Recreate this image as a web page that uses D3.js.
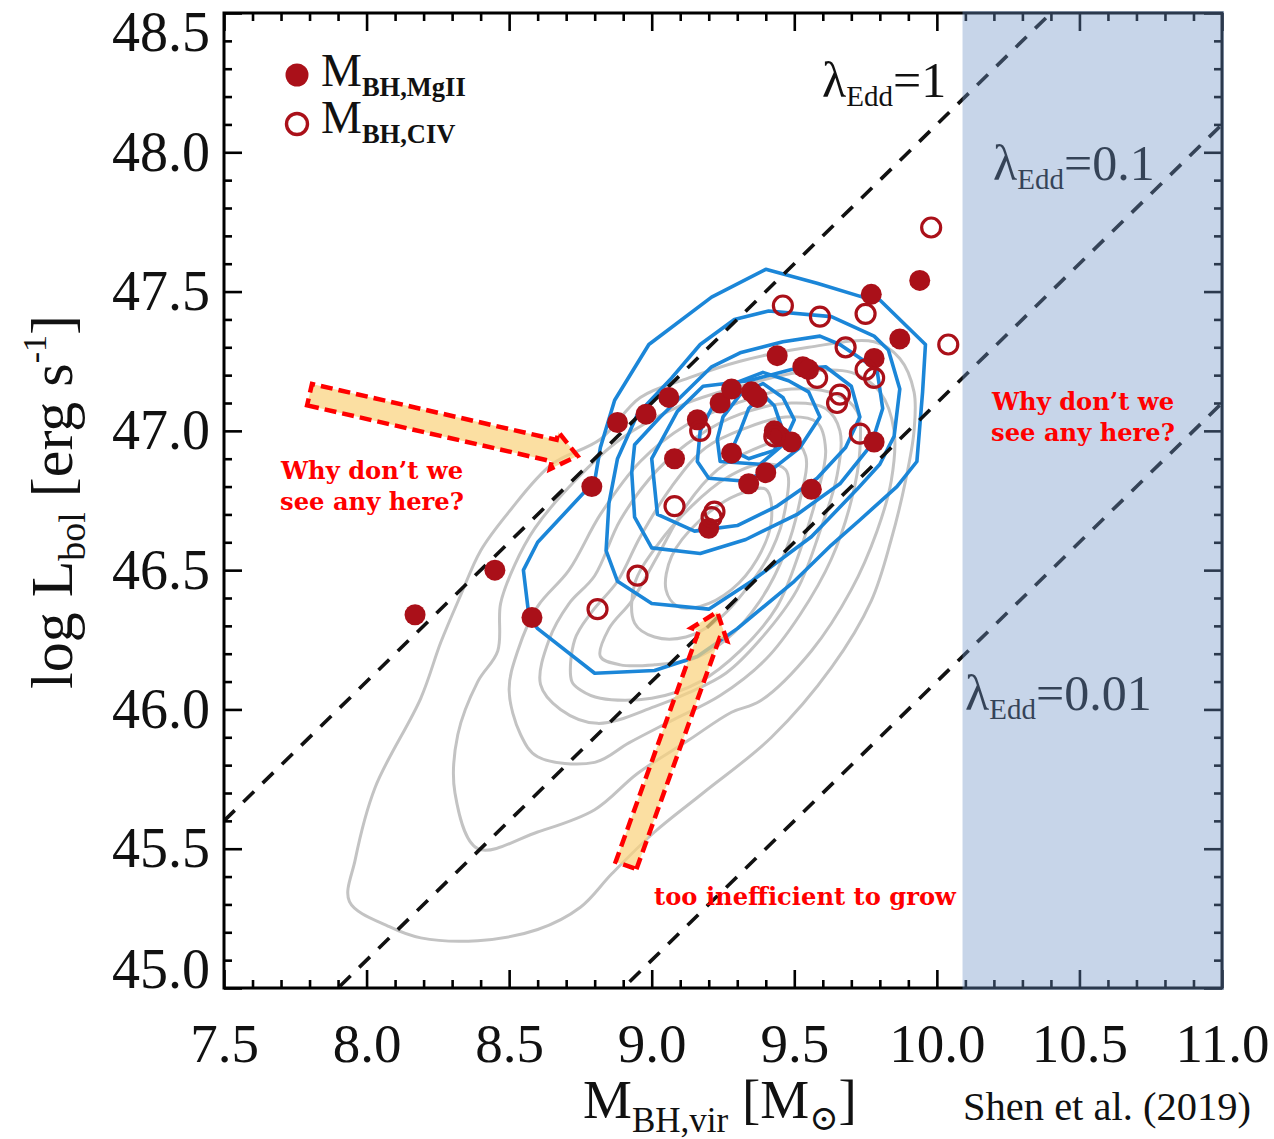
<!DOCTYPE html>
<html>
<head>
<meta charset="utf-8">
<script src="https://cdn.jsdelivr.net/npm/d3@7"></script>
<style>
  html, body { margin: 0; padding: 0; background: #fff; }
  svg { display: block; }
</style>
</head>
<body>
<svg id="chart" width="1274" height="1139"></svg>
<script>
// ---- Quasars with MgII-based virial masses: log M_BH and log L_bol ----
const mgiiMass = [8.17, 8.45, 8.58, 8.79, 8.88, 8.98, 9.06, 9.08, 9.16, 9.24, 9.28, 9.35, 9.37, 9.28, 9.40,
                  9.34, 9.20, 9.44, 9.53, 9.55, 9.43, 9.45, 9.49, 9.56, 9.77, 9.94, 9.87, 9.78, 9.78];
const mgiiLbol = [46.34, 46.50, 46.33, 46.80, 47.03, 47.06, 47.12, 46.90, 47.04, 47.10, 47.15, 47.14, 47.12, 46.92, 46.85,
                  46.81, 46.65, 47.27, 47.23, 47.22, 47.00, 46.98, 46.96, 46.79, 47.49, 47.54, 47.33, 47.26, 46.96];

// ---- Quasars with CIV-based virial masses ----
const civMass = [9.98, 9.46, 9.59, 9.75, 9.68, 9.58, 9.75, 9.78, 9.66, 9.65, 9.17, 9.73, 9.43, 9.08, 9.22, 9.21, 10.04, 8.95, 8.81];
const civLbol = [47.73, 47.45, 47.41, 47.42, 47.30, 47.19, 47.22, 47.19, 47.13, 47.10, 47.00, 46.99, 46.98, 46.73, 46.71, 46.69, 47.31, 46.48, 46.36];

// ---- Density contours of the comparison sample (grey), outer to inner ----
const grayContours = [
  [[7.94,45.31],[7.96,45.46],[8.03,45.72],[8.19,46.04],[8.26,46.24],[8.33,46.41],[8.40,46.57],[8.50,46.71],[8.65,46.88],
   [8.82,46.97],[8.96,47.12],[9.13,47.19],[9.31,47.25],[9.55,47.30],[9.78,47.32],[9.87,47.26],[9.92,47.14],[9.92,47.00],
   [9.89,46.82],[9.84,46.61],[9.77,46.39],[9.63,46.15],[9.42,45.90],[9.18,45.70],[9.01,45.56],[8.86,45.41],[8.75,45.29],
   [8.60,45.21],[8.39,45.17],[8.19,45.18],[8.08,45.22]],
  [[8.39,45.50],[8.31,45.70],[8.32,45.91],[8.39,46.10],[8.46,46.21],[8.47,46.38],[8.52,46.52],[8.59,46.65],[8.73,46.82],
   [8.89,46.97],[9.10,47.09],[9.31,47.16],[9.52,47.21],[9.70,47.21],[9.80,47.14],[9.85,47.00],[9.84,46.82],[9.79,46.64],
   [9.70,46.43],[9.56,46.21],[9.38,46.03],[9.28,45.99],[9.13,45.89],[8.95,45.77],[8.80,45.64],[8.60,45.56]],
  [[8.54,45.91],[8.60,45.83],[8.80,45.81],[8.92,45.88],[9.07,45.96],[9.24,46.05],[9.40,46.18],[9.52,46.34],[9.63,46.54],
   [9.70,46.75],[9.73,46.93],[9.72,47.07],[9.65,47.13],[9.49,47.15],[9.30,47.10],[9.12,47.02],[8.96,46.89],[8.82,46.70],
   [8.71,46.50],[8.60,46.37],[8.53,46.21],[8.50,46.07]],
  [[8.61,46.09],[8.68,46.00],[8.81,45.95],[9.01,46.01],[9.13,46.06],[9.26,46.13],[9.38,46.25],[9.51,46.43],[9.59,46.64],
   [9.65,46.84],[9.66,47.00],[9.61,47.08],[9.49,47.10],[9.31,47.06],[9.16,46.98],[9.02,46.86],[8.89,46.68],[8.80,46.48],
   [8.71,46.38],[8.64,46.25]],
  [[8.72,46.10],[8.73,46.25],[8.79,46.35],[8.88,46.46],[8.96,46.62],[9.07,46.80],[9.19,46.94],[9.33,47.01],[9.47,47.05],
   [9.58,47.03],[9.61,46.93],[9.58,46.77],[9.52,46.57],[9.44,46.37],[9.31,46.21],[9.17,46.10],[9.00,46.04],[8.82,46.04],
   [8.75,46.07]],
  [[8.82,46.19],[8.85,46.29],[8.93,46.39],[9.02,46.55],[9.12,46.73],[9.23,46.86],[9.35,46.93],[9.49,46.97],[9.54,46.91],
   [9.52,46.75],[9.47,46.57],[9.38,46.39],[9.26,46.25],[9.14,46.18],[9.01,46.16],[8.89,46.16]],
  [[8.94,46.31],[8.94,46.45],[9.02,46.59],[9.14,46.73],[9.26,46.83],[9.38,46.88],[9.47,46.86],[9.47,46.73],[9.42,46.57],
   [9.33,46.43],[9.23,46.32],[9.12,46.26],[9.01,46.26]],
  [[9.05,46.43],[9.07,46.55],[9.17,46.68],[9.30,46.77],[9.40,46.79],[9.42,46.68],[9.37,46.54],[9.28,46.43],[9.17,46.37],
   [9.09,46.37]]
];

// ---- Density contours of the high-redshift sample (blue), outer to inner ----
const blueContours = [
  [[9.40,47.58],[9.58,47.53],[9.74,47.48],[9.80,47.47],[9.96,47.31],[9.95,47.14],[9.93,46.89],[9.86,46.80],[9.73,46.68],
   [9.63,46.59],[9.50,46.46],[9.30,46.29],[9.16,46.19],[9.01,46.14],[8.80,46.13],[8.60,46.29],[8.57,46.33],[8.55,46.50],
   [8.60,46.60],[8.80,46.82],[8.82,46.94],[8.87,47.11],[8.99,47.31],[9.21,47.48]],
  [[9.41,47.43],[9.63,47.41],[9.78,47.34],[9.83,47.29],[9.87,47.15],[9.85,46.98],[9.80,46.88],[9.72,46.79],[9.56,46.62],
   [9.35,46.46],[9.20,46.36],[9.00,46.38],[8.88,46.46],[8.84,46.57],[8.85,46.74],[8.88,46.90],[8.95,47.06],[9.07,47.19],
   [9.17,47.31],[9.29,47.40]],
  [[9.21,47.23],[9.31,47.28],[9.46,47.32],[9.59,47.34],[9.66,47.31],[9.79,47.22],[9.81,47.08],[9.77,46.95],[9.66,46.81],
   [9.51,46.70],[9.33,46.61],[9.17,46.56],[9.00,46.58],[8.94,46.69],[8.93,46.85],[8.94,46.95],[9.03,47.05]],
  [[9.09,47.07],[9.18,47.16],[9.34,47.18],[9.49,47.22],[9.61,47.23],[9.70,47.16],[9.73,47.05],[9.68,46.94],[9.58,46.83],
   [9.44,46.73],[9.30,46.66],[9.15,46.64],[9.02,46.70],[9.00,46.90]],
  [[9.29,47.17],[9.39,47.21],[9.48,47.18],[9.55,47.14],[9.59,47.05],[9.52,46.94],[9.42,46.86],[9.32,46.82],[9.20,46.83],
   [9.16,46.89],[9.17,47.00],[9.22,47.10]],
  [[9.31,47.13],[9.39,47.17],[9.46,47.12],[9.50,47.04],[9.46,46.95],[9.38,46.88],[9.24,46.89],[9.23,46.97],[9.25,47.05]],
  [[9.34,47.08],[9.39,47.13],[9.43,47.09],[9.46,47.00],[9.43,46.93],[9.34,46.90],[9.28,46.93],[9.31,47.00]]
];

// ---- Eddington ratio reference lines: log L = log M + eddConst + log(lambda) ----
const eddRatios = [1, 0.1, 0.01];
const eddLabels = ["1", "0.1", "0.01"];
const eddConst = 38.1;

// ---- Mass range where no objects are found ----
const emptyMassFrom = 10.09;

// ---- Axes ----
const xMajor = [7.5, 8.0, 8.5, 9.0, 9.5, 10.0, 10.5, 11.0];
const yMajor = [45.0, 45.5, 46.0, 46.5, 47.0, 47.5, 48.0, 48.5];
const xMinor = d3.range(75, 111).filter(v => v % 5 !== 0).map(v => v / 10);
const yMinor = d3.range(450, 486).filter(v => v % 5 !== 0).map(v => v / 10);

// ---- Annotation arrows in data units: [tail, tip] ----
const arrowAbove = [[7.80, 47.13], [8.74, 46.91]];
const arrowBelow = [[8.91, 45.44], [9.23, 46.35]];

const plotL = 224, plotR = 1222, plotT = 13, plotB = 988;
const serif = "'Liberation Serif', 'Times New Roman', serif";
const red = "#aa1019";

const svg = d3.select("#chart");
const x = d3.scaleLinear().domain([7.5, 11.0]).range([plotL, plotR]);
const y = d3.scaleLinear().domain([45.0, 48.5]).range([plotB, plotT]);

svg.append("defs").append("clipPath").attr("id", "plotClip")
  .append("rect").attr("x", plotL).attr("y", plotT).attr("width", plotR - plotL).attr("height", plotB - plotT);

const plot = svg.append("g").attr("clip-path", "url(#plotClip)");
const grayLine = d3.line().x(d => x(d[0])).y(d => y(d[1])).curve(d3.curveCatmullRomClosed.alpha(0.5));
const blueLine = d3.line().x(d => x(d[0])).y(d => y(d[1])).curve(d3.curveLinearClosed);

plot.append("g").selectAll("path").data(grayContours).join("path")
  .attr("d", grayLine).attr("fill", "none").attr("stroke", "#c3c3c3")
  .attr("stroke-width", 3).attr("stroke-linejoin", "round");

plot.append("g").selectAll("path").data(blueContours).join("path")
  .attr("d", blueLine).attr("fill", "none").attr("stroke", "#1b86d8")
  .attr("stroke-width", 3.6).attr("stroke-linejoin", "round");

// Eddington lines
plot.append("g").selectAll("line").data(eddRatios).join("line")
  .attr("x1", x(7.5)).attr("y1", d => y(7.5 + eddConst + Math.log10(d)))
  .attr("x2", x(11.0)).attr("y2", d => y(11.0 + eddConst + Math.log10(d)))
  .attr("stroke", "#111").attr("stroke-width", 3.6).attr("stroke-dasharray", "15,12");

// Data points
const mgii = mgiiMass.map((m, i) => [m, mgiiLbol[i]]);
const civ = civMass.map((m, i) => [m, civLbol[i]]);
plot.append("g").selectAll("circle").data(mgii).join("circle")
  .attr("cx", d => x(d[0])).attr("cy", d => y(d[1])).attr("r", 10.5).attr("fill", red);
plot.append("g").selectAll("circle").data(civ).join("circle")
  .attr("cx", d => x(d[0])).attr("cy", d => y(d[1])).attr("r", 9.5)
  .attr("fill", "none").attr("stroke", red).attr("stroke-width", 3.2);

// Eddington labels
const eddPos = [[822, 97], [993, 180], [965, 710]];
eddLabels.forEach((lab, i) => {
  const t = svg.append("text").attr("x", eddPos[i][0]).attr("y", eddPos[i][1])
    .attr("font-family", serif).attr("font-size", 50).attr("fill", "#111");
  t.append("tspan").text("λ");
  t.append("tspan").attr("font-size", 29).attr("dy", 9).text("Edd");
  t.append("tspan").attr("dy", -9).text("=" + lab);
});

// Legend
const legend = svg.append("g");
legend.append("circle").attr("cx", 297).attr("cy", 75).attr("r", 11.5).attr("fill", red);
legend.append("circle").attr("cx", 297).attr("cy", 124).attr("r", 10.5).attr("fill", "none")
  .attr("stroke", red).attr("stroke-width", 3.4);
[["BH,MgII", 86], ["BH,CIV", 133]].forEach(([sub, by]) => {
  const t = legend.append("text").attr("x", 321).attr("y", by)
    .attr("font-family", serif).attr("font-size", 46).attr("fill", "#111");
  t.append("tspan").text("M");
  t.append("tspan").attr("font-size", 26.5).attr("font-weight", "bold").attr("dy", 10).text(sub);
});

// Axes: inward ticks on all four sides
function styleAxis(g) {
  g.select(".domain").remove();
  g.selectAll(".tick line").attr("stroke", "#000").attr("stroke-width", 2.6);
  g.selectAll("text").attr("font-family", serif).attr("fill", "#111");
}
const fmt = d3.format(".1f");
svg.append("g").attr("transform", `translate(0,${plotB})`)
  .call(d3.axisBottom(x).tickValues(xMajor).tickSize(-18).tickPadding(35).tickFormat(fmt))
  .call(styleAxis).call(g => g.selectAll("text").attr("font-size", 55));
svg.append("g").attr("transform", `translate(0,${plotB})`)
  .call(d3.axisBottom(x).tickValues(xMinor).tickSize(-8).tickFormat("")).call(styleAxis);
svg.append("g").attr("transform", `translate(0,${plotT})`)
  .call(d3.axisTop(x).tickValues(xMajor).tickSize(-18).tickFormat("")).call(styleAxis);
svg.append("g").attr("transform", `translate(0,${plotT})`)
  .call(d3.axisTop(x).tickValues(xMinor).tickSize(-8).tickFormat("")).call(styleAxis);
svg.append("g").attr("transform", `translate(${plotL},0)`)
  .call(d3.axisLeft(y).tickValues(yMajor).tickSize(-18).tickPadding(14).tickFormat(fmt))
  .call(styleAxis)
  .call(g => g.selectAll("text").attr("font-size", 56)
    // keep the end labels inside the frame height
    .attr("y", d => d === 48.5 ? 20 : d === 45.0 ? -18 : 0));
svg.append("g").attr("transform", `translate(${plotL},0)`)
  .call(d3.axisLeft(y).tickValues(yMinor).tickSize(-8).tickFormat("")).call(styleAxis);
svg.append("g").attr("transform", `translate(${plotR},0)`)
  .call(d3.axisRight(y).tickValues(yMajor).tickSize(-18).tickFormat("")).call(styleAxis);
svg.append("g").attr("transform", `translate(${plotR},0)`)
  .call(d3.axisRight(y).tickValues(yMinor).tickSize(-8).tickFormat("")).call(styleAxis);

svg.append("rect").attr("x", plotL).attr("y", plotT).attr("width", plotR - plotL).attr("height", plotB - plotT)
  .attr("fill", "none").attr("stroke", "#000").attr("stroke-width", 3);

// Shaded empty region (drawn over the frame so it tints it)
svg.append("rect").attr("x", x(emptyMassFrom)).attr("y", plotT - 2)
  .attr("width", plotR + 2 - x(emptyMassFrom)).attr("height", plotB - plotT + 4)
  .attr("fill", "rgb(110,148,199)").attr("fill-opacity", 0.39);

// Axis titles
const xt = svg.append("text").attr("x", 583).attr("y", 1118)
  .attr("font-family", serif).attr("font-size", 55).attr("fill", "#111");
xt.append("tspan").text("M");
xt.append("tspan").attr("font-size", 35).attr("dy", 14).text("BH,vir");
xt.append("tspan").attr("dy", -14).text(" [M");
xt.append("tspan").attr("font-size", 35).attr("dy", 12).attr("font-family", "'DejaVu Serif', serif").text("⊙");
xt.append("tspan").attr("dy", -12).text("]");

const yt = svg.append("text").attr("transform", "translate(72,502) rotate(-90)")
  .attr("text-anchor", "middle").attr("font-family", serif).attr("font-size", 60).attr("fill", "#111");
yt.append("tspan").text("log L");
yt.append("tspan").attr("font-size", 38).attr("dy", 13).text("bol");
yt.append("tspan").attr("dy", -13).text(" [erg s");
yt.append("tspan").attr("font-size", 34).attr("dy", -26).text("-1");
yt.append("tspan").attr("dy", 26).text("]");

svg.append("text").attr("x", 963).attr("y", 1120).attr("font-family", serif)
  .attr("font-size", 40.5).attr("fill", "#111").text("Shen et al. (2019)");

// Annotation arrows
function arrowPoints([p0, p1], hw, headHW, headLen) {
  const x0 = x(p0[0]), y0 = y(p0[1]), x1 = x(p1[0]), y1 = y(p1[1]);
  const len = Math.hypot(x1 - x0, y1 - y0), ux = (x1 - x0) / len, uy = (y1 - y0) / len;
  const nx = -uy, ny = ux, bx = x1 - ux * headLen, by = y1 - uy * headLen;
  return [[x0 + nx * hw, y0 + ny * hw], [bx + nx * hw, by + ny * hw], [bx + nx * headHW, by + ny * headHW],
          [x1, y1], [bx - nx * headHW, by - ny * headHW], [bx - nx * hw, by - ny * hw], [x0 - nx * hw, y0 - ny * hw]];
}
[arrowAbove, arrowBelow].forEach(a => {
  svg.append("polygon").attr("points", arrowPoints(a, 11, 19, 24).map(p => p.join(",")).join(" "))
    .attr("fill", "#f9d27e").attr("fill-opacity", 0.72)
    .attr("stroke", "#ff0000").attr("stroke-width", 4.5).attr("stroke-dasharray", "12,6")
    .attr("stroke-linejoin", "miter");
});

// Annotation text
const annFont = "'DejaVu Serif', Georgia, serif";
function note(lines, cx, by) {
  const t = svg.append("text").attr("text-anchor", "middle").attr("font-family", annFont)
    .attr("font-weight", "bold").attr("font-size", 24.2).attr("fill", "#ff0000");
  lines.forEach((s, i) => t.append("tspan").attr("x", cx).attr("y", by + i * 31).text(s));
}
note(["Why don’t we", "see any here?"], 372, 479);
note(["Why don’t we", "see any here?"], 1083, 410);
note(["too inefficient to grow"], 805, 905);
</script>
</body>
</html>
